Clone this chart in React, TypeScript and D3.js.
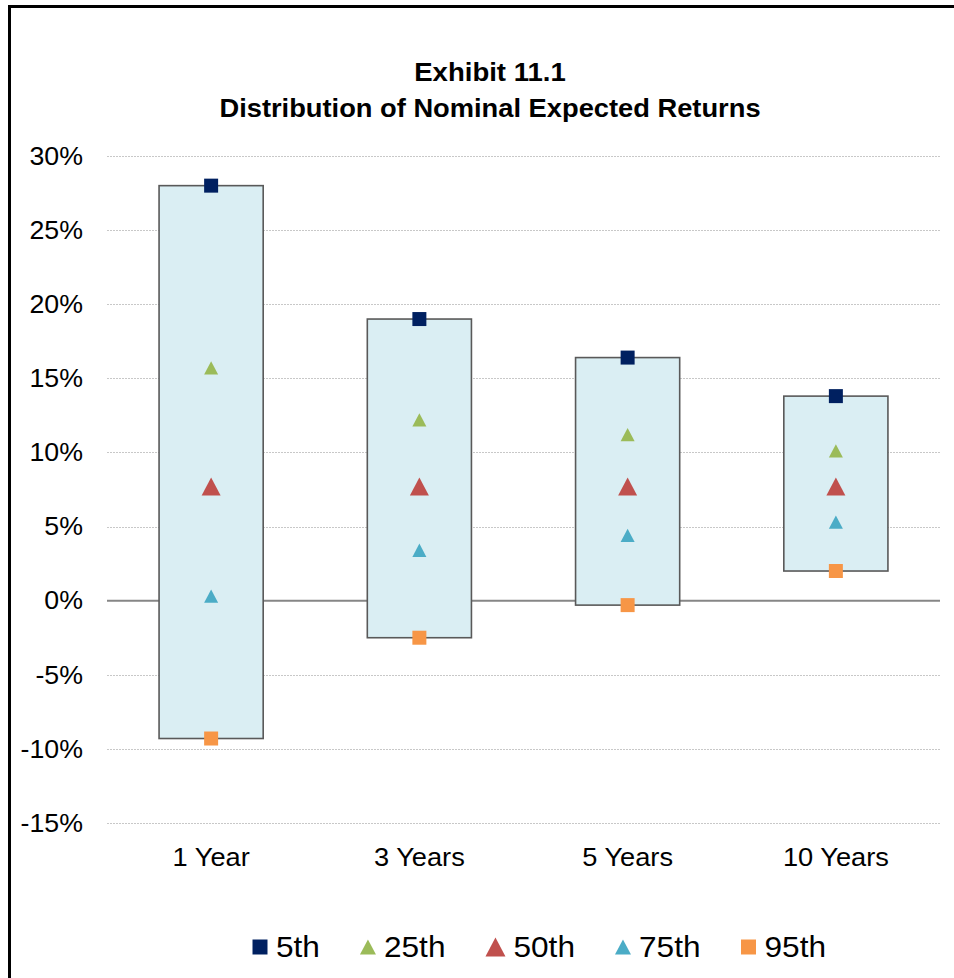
import React, { useEffect, useRef } from 'react';
import * as d3 from 'd3';

const horizons = ['1 Year', '3 Years', '5 Years', '10 Years'];
const p5 = [28.0, 19.0, 16.4, 13.8];
const p25 = [15.7, 12.2, 11.2, 10.1];
const p50 = [7.7, 7.7, 7.7, 7.7];
const p75 = [0.3, 3.4, 4.4, 5.3];
const p95 = [-9.3, -2.5, -0.3, 2.0];
const yTicks = [30, 25, 20, 15, 10, 5, 0, -5, -10, -15];

const seriesNames = ['5th', '25th', '50th', '75th', '95th'];
const seriesColors = ['#002060', '#9BBB59', '#C0504D', '#4BACC6', '#F79646'];

const W = 954;
const H = 978;

const App: React.FC = () => {
  const svgRef = useRef<SVGSVGElement>(null);

  useEffect(() => {
    if (!svgRef.current) return;
    const svg = d3.select(svgRef.current);
    svg.selectAll('*').remove();

    const font = '"Liberation Sans", Arial, sans-serif';
    const plot = { left: 107, right: 940, top: 156, bottom: 823 };

    // the source renders text a little wider than Arial, so stretch it horizontally
    const at = (px: number, py: number, s: number) => `translate(${px},${py}) scale(${s},1)`;

    const x = d3
      .scaleBand()
      .domain(horizons)
      .range([plot.left, plot.right])
      .paddingInner(0.5)
      .paddingOuter(0.25);

    const y = d3.scaleLinear().domain([-15, 30]).range([plot.bottom, plot.top]);

    // frame (only top and left edges are in view)
    svg.append('line')
      .attr('x1', 8).attr('x2', W).attr('y1', 6.5).attr('y2', 6.5)
      .attr('stroke', '#000').attr('stroke-width', 3);
    svg.append('line')
      .attr('x1', 9.5).attr('x2', 9.5).attr('y1', 5).attr('y2', H)
      .attr('stroke', '#000').attr('stroke-width', 3);

    // title
    const title = svg.append('g')
      .attr('font-family', font)
      .attr('font-weight', 'bold')
      .attr('font-size', 26)
      .attr('text-anchor', 'middle')
      .attr('fill', '#000');
    title.append('text').attr('transform', at(490, 81, 1.06)).text('Exhibit 11.1');
    title.append('text').attr('transform', at(490, 117, 1.05)).text('Distribution of Nominal Expected Returns');

    // gridlines
    svg.append('g')
      .selectAll('line')
      .data(yTicks.filter(d => d !== 0))
      .enter()
      .append('line')
      .attr('x1', plot.left)
      .attr('x2', plot.right)
      .attr('y1', d => Math.round(y(d)) + 0.5)
      .attr('y2', d => Math.round(y(d)) + 0.5)
      .attr('stroke', '#c8c8c8')
      .attr('stroke-width', 1)
      .attr('stroke-dasharray', '2,1');

    // zero line
    svg.append('line')
      .attr('x1', plot.left).attr('x2', plot.right)
      .attr('y1', y(0)).attr('y2', y(0))
      .attr('stroke', '#868686').attr('stroke-width', 2);

    // y tick labels
    svg.append('g')
      .attr('font-family', font)
      .attr('font-size', 25)
      .attr('text-anchor', 'end')
      .selectAll('text')
      .data(yTicks)
      .enter()
      .append('text')
      .attr('transform', d => at(83, y(d), 1.07))
      .attr('dy', '0.35em')
      .attr('fill', '#000')
      .text(d => `${d}%`);

    // boxes from 5th to 95th
    svg.append('g')
      .selectAll('rect')
      .data(horizons)
      .enter()
      .append('rect')
      .attr('x', d => x(d) || 0)
      .attr('width', x.bandwidth())
      .attr('y', (d, i) => y(p5[i]))
      .attr('height', (d, i) => y(p95[i]) - y(p5[i]))
      .attr('fill', '#DAEEF3')
      .attr('stroke', '#595959')
      .attr('stroke-width', 1.6);

    const cx = (d: string) => (x(d) || 0) + x.bandwidth() / 2;
    const values = [p5, p25, p50, p75, p95];
    const square = (s: number) => `M${-s / 2},${-s / 2}h${s}v${s}h${-s}Z`;
    const tri = (s: number) => {
      const h = s * 0.95;
      return `M0,${-h / 2}L${s / 2},${h / 2}L${-s / 2},${h / 2}Z`;
    };
    const shapes = [square(14), tri(14), tri(19), tri(14), square(14)];

    values.forEach((vals, si) => {
      svg.append('g')
        .selectAll('path')
        .data(horizons)
        .enter()
        .append('path')
        .attr('d', shapes[si])
        .attr('transform', (d, i) => `translate(${cx(d)},${y(vals[i])})`)
        .attr('fill', seriesColors[si]);
    });

    // category labels
    svg.append('g')
      .attr('font-family', font)
      .attr('font-size', 25)
      .attr('text-anchor', 'middle')
      .selectAll('text')
      .data(horizons)
      .enter()
      .append('text')
      .attr('transform', d => at(cx(d), 866, 1.09))
      .attr('fill', '#000')
      .text(d => d);

    // legend
    const legendSizes = [16, 16, 20, 16, 16];
    const legendShapes = [square(15), tri(16), tri(20), tri(16), square(15)];
    const legendStretch = 1.09;
    const legend = svg.append('g').attr('font-family', font).attr('font-size', 29);
    let lx = 252;
    const ly = 947;
    seriesNames.forEach((name, i) => {
      const mw = legendSizes[i];
      legend.append('path')
        .attr('d', legendShapes[i])
        .attr('transform', `translate(${lx + mw / 2},${ly})`)
        .attr('fill', seriesColors[i]);
      const t = legend.append('text')
        .attr('transform', at(lx + mw + 8, ly, legendStretch))
        .attr('dy', '0.36em')
        .attr('fill', '#000')
        .text(name);
      const tw = (t.node() as SVGTextElement).getComputedTextLength() * legendStretch;
      lx += mw + 8 + tw + 40;
    });
  }, []);

  return (
    <svg
      ref={svgRef}
      width={W}
      height={H}
      style={{ position: 'absolute', left: 0, top: 0, background: '#fff' }}
    />
  );
};

export default App;
